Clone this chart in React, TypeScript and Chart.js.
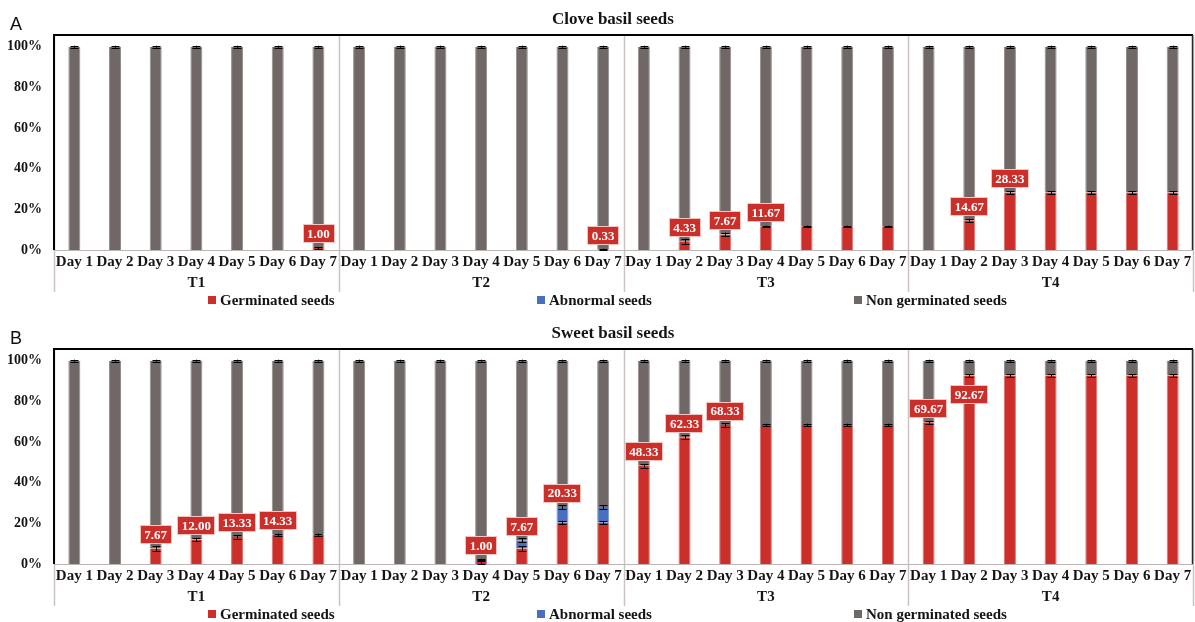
import React, { useEffect, useRef } from 'react';
import { Chart, registerables } from 'chart.js';

Chart.register(...registerables);

// ---------- data ----------
const days = ['Day 1', 'Day 2', 'Day 3', 'Day 4', 'Day 5', 'Day 6', 'Day 7'];
const groups = ['T1', 'T2', 'T3', 'T4'];
const yTicks = [0, 20, 40, 60, 80, 100];
const seriesNames = ['Germinated seeds', 'Abnormal seeds', 'Non germinated seeds'];

// Panel A – Clove basil seeds (T1..T4, Day 1..7)
const cloveGerminated = [
  0, 0, 0, 0, 0, 0, 1.0,
  0, 0, 0, 0, 0, 0, 0.33,
  0, 4.33, 7.67, 11.67, 11.67, 11.67, 11.67,
  0, 14.67, 28.33, 28.33, 28.33, 28.33, 28.33,
];
const cloveAbnormal = [
  0, 0, 0, 0, 0, 0, 0,
  0, 0, 0, 0, 0, 0, 0,
  0, 0, 0, 0, 0, 0, 0,
  0, 0, 0, 0, 0, 0, 0,
];
const cloveNonGerminated = [
  100, 100, 100, 100, 100, 100, 99.0,
  100, 100, 100, 100, 100, 100, 99.67,
  100, 95.67, 92.33, 88.33, 88.33, 88.33, 88.33,
  100, 85.33, 71.67, 71.67, 71.67, 71.67, 71.67,
];
const cloveErrGerminated = [
  0, 0, 0, 0, 0, 0, 0.58,
  0, 0, 0, 0, 0, 0, 0.33,
  0, 1.2, 0.88, 0.33, 0.33, 0.33, 0.33,
  0, 0.67, 0.67, 0.67, 0.67, 0.67, 0.67,
];
const cloveErrAbnormal = [
  0, 0, 0, 0, 0, 0, 0,
  0, 0, 0, 0, 0, 0, 0,
  0, 0, 0, 0, 0, 0, 0,
  0, 0, 0, 0, 0, 0, 0,
];
const cloveErrTop = [
  0.5, 0.5, 0.5, 0.5, 0.5, 0.5, 0.5,
  0.5, 0.5, 0.5, 0.5, 0.5, 0.5, 0.5,
  0.5, 0.5, 0.5, 0.5, 0.5, 0.5, 0.5,
  0.5, 0.5, 0.5, 0.5, 0.5, 0.5, 0.5,
];

// Panel B – Sweet basil seeds
const sweetGerminated = [
  0, 0, 7.67, 12.0, 13.33, 14.33, 14.33,
  0, 0, 0, 1.0, 7.67, 20.33, 20.33,
  48.33, 62.33, 68.33, 68.33, 68.33, 68.33, 68.33,
  69.67, 92.67, 92.67, 92.67, 92.67, 92.67, 92.67,
];
const sweetAbnormal = [
  0, 0, 0, 0, 0, 0, 0,
  0, 0, 0, 1.0, 4.0, 7.67, 7.67,
  0, 0, 0, 0, 0, 0, 0,
  0, 0, 0, 0, 0, 0, 0,
];
const sweetNonGerminated = [
  100, 100, 92.33, 88.0, 86.67, 85.67, 85.67,
  100, 100, 100, 98.0, 88.33, 72.0, 72.0,
  51.67, 37.67, 31.67, 31.67, 31.67, 31.67, 31.67,
  30.33, 7.33, 7.33, 7.33, 7.33, 7.33, 7.33,
];
const sweetErrGerminated = [
  0, 0, 1.2, 0.88, 0.88, 0.67, 0.67,
  0, 0, 0, 1.0, 1.2, 0.88, 0.88,
  0.88, 0.88, 0.88, 0.67, 0.67, 0.67, 0.67,
  0.67, 0.67, 0.67, 0.67, 0.67, 0.67, 0.67,
];
const sweetErrAbnormal = [
  0, 0, 0, 0, 0, 0, 0,
  0, 0, 0, 0.67, 1.0, 0.88, 0.88,
  0, 0, 0, 0, 0, 0, 0,
  0, 0, 0, 0, 0, 0, 0,
];
const sweetErrTop = [
  0.5, 0.5, 0.5, 0.5, 0.5, 0.5, 0.5,
  0.5, 0.5, 0.5, 0.5, 0.5, 0.5, 0.5,
  0.5, 0.5, 0.5, 0.5, 0.5, 0.5, 0.5,
  0.5, 0.5, 0.5, 0.5, 0.5, 0.5, 0.5,
];

// ---------- styles ----------
const SERIF = "'Liberation Serif', 'Times New Roman', serif";
const SANS = "'Liberation Sans', Arial, sans-serif";
const RED = '#cc2f2a';
const RED_EDGE = '#e2706c';
const BLUE = '#4a6fbe';
const BLUE_EDGE = '#7a94d0';
const GRAY = '#6f6866';
const GRAY_EDGE = '#948d8b';
const SEP = '#cbc3c2';
const TEXT = '#141414';
const W = 1195;
const H = 314;

const categories: string[] = groups.flatMap(() => days);

type PanelProps = {
  top: number;
  letter: string;
  title: string;
  germ: number[];
  abn: number[];
  non: number[];
  errG: number[];
  errA: number[];
  errT: number[];
};

function makeDecor(p: PanelProps) {
  return {
    id: 'panelDecor',
    beforeDatasetsDraw(chart: any) {
      const { ctx, chartArea: ca } = chart;
      const x2 = chart.scales.x2;
      ctx.save();
      ctx.strokeStyle = SEP;
      ctx.lineWidth = 1.5;
      for (let k = 0; k <= 4; k++) {
        const x = Math.round(ca.left + (k * (ca.right - ca.left)) / 4) + 0.5;
        ctx.beginPath();
        ctx.moveTo(x, ca.top);
        ctx.lineTo(x, x2.bottom);
        ctx.stroke();
      }
      ctx.strokeStyle = '#bdb5b4';
      ctx.lineWidth = 1;
      ctx.beginPath();
      ctx.moveTo(ca.left, Math.round(ca.bottom) + 0.5);
      ctx.lineTo(ca.right, Math.round(ca.bottom) + 0.5);
      ctx.stroke();
      ctx.restore();
    },
    afterDatasetsDraw(chart: any) {
      const { ctx, chartArea: ca } = chart;
      const xs = chart.scales.x;
      const ys = chart.scales.y;
      ctx.save();
      // error bars
      ctx.strokeStyle = '#000';
      ctx.lineWidth = 1;
      const drawErr = (x: number, v: number, e: number) => {
        const y1 = ys.getPixelForValue(v + e);
        const y2 = ys.getPixelForValue(v - e);
        const xx = Math.round(x) + 0.5;
        ctx.beginPath();
        ctx.moveTo(xx, y1);
        ctx.lineTo(xx, y2);
        ctx.moveTo(xx - 4, Math.round(y1) + 0.5);
        ctx.lineTo(xx + 4, Math.round(y1) + 0.5);
        ctx.moveTo(xx - 4, Math.round(y2) + 0.5);
        ctx.lineTo(xx + 4, Math.round(y2) + 0.5);
        ctx.stroke();
      };
      for (let i = 0; i < categories.length; i++) {
        const x = xs.getPixelForValue(i);
        if (p.germ[i] > 0) drawErr(x, p.germ[i], p.errG[i]);
        if (p.abn[i] > 0) drawErr(x, p.germ[i] + p.abn[i], p.errA[i]);
        drawErr(x, p.germ[i] + p.abn[i] + p.non[i], p.errT[i]);
      }
      // frame
      ctx.strokeStyle = '#000';
      ctx.lineWidth = 2;
      ctx.beginPath();
      ctx.moveTo(ca.left, ca.bottom);
      ctx.lineTo(ca.left, ca.top);
      ctx.lineTo(ca.right, ca.top);
      ctx.stroke();
      ctx.lineWidth = 1.5;
      ctx.strokeStyle = '#2a2a2a';
      ctx.beginPath();
      ctx.moveTo(ca.right - 0.5, ca.top);
      ctx.lineTo(ca.right - 0.5, ca.bottom);
      ctx.stroke();

      // data labels
      ctx.font = `bold 13px ${SERIF}`;
      ctx.textAlign = 'center';
      ctx.textBaseline = 'middle';
      for (let i = 0; i < categories.length; i++) {
        const g = p.germ[i];
        const d = i % days.length;
        if (!(g > 0) || (d > 0 && p.germ[i - 1] === g)) continue;
        const x = xs.getPixelForValue(i);
        let y = ys.getPixelForValue(g + p.abn[i]) - 14;
        if (g > 85) y = ys.getPixelForValue(g) + 19;
        const txt = g.toFixed(2);
        const tw = ctx.measureText(txt).width + 9;
        const th = 19;
        ctx.fillStyle = RED;
        ctx.fillRect(Math.round(x - tw / 2), Math.round(y - th / 2), Math.round(tw), th);
        ctx.strokeStyle = '#f2c4c2';
        ctx.lineWidth = 1;
        ctx.strokeRect(Math.round(x - tw / 2) + 0.5, Math.round(y - th / 2) + 0.5, Math.round(tw) - 1, th - 1);
        ctx.fillStyle = '#fff';
        ctx.fillText(txt, x, y + 1);
      }
      ctx.restore();
    },
    afterDraw(chart: any) {
      const { ctx } = chart;
      ctx.save();
      // panel letter
      ctx.fillStyle = '#111';
      ctx.font = `18px ${SANS}`;
      ctx.textAlign = 'left';
      ctx.textBaseline = 'alphabetic';
      ctx.fillText(p.letter, 10, 30);
      // title
      ctx.font = `bold 17px ${SERIF}`;
      ctx.textAlign = 'center';
      ctx.textBaseline = 'middle';
      ctx.fillStyle = TEXT;
      ctx.fillText(p.title, 613, 20);
      // legend
      const colors = [RED, BLUE, GRAY];
      const lx = [208, 537, 854];
      const ly = 300;
      ctx.font = `bold 15px ${SERIF}`;
      ctx.textAlign = 'left';
      for (let k = 0; k < seriesNames.length; k++) {
        ctx.fillStyle = colors[k];
        ctx.fillRect(lx[k], ly - 4, 8, 8);
        ctx.fillStyle = TEXT;
        ctx.fillText(seriesNames[k], lx[k] + 12, ly + 1);
      }
      ctx.restore();
    },
  };
}

function Panel(p: PanelProps) {
  const ref = useRef<HTMLCanvasElement>(null);
  useEffect(() => {
    const tickFont = { family: SERIF, size: 15, weight: 'bold' as const };
    const edge = { left: 1, right: 1, top: 0, bottom: 0 };
    const chart = new Chart(ref.current as HTMLCanvasElement, {
      type: 'bar',
      data: {
        labels: categories,
        datasets: [
          { label: seriesNames[0], data: p.germ, backgroundColor: RED, borderColor: RED_EDGE, borderWidth: edge },
          { label: seriesNames[1], data: p.abn, backgroundColor: BLUE, borderColor: BLUE_EDGE, borderWidth: edge },
          { label: seriesNames[2], data: p.non, backgroundColor: GRAY, borderColor: GRAY_EDGE, borderWidth: edge },
        ],
      },
      options: {
        responsive: false,
        animation: false,
        events: [],
        layout: { padding: { left: 7, right: 2, top: 35, bottom: 22 } },
        datasets: { bar: { barPercentage: 0.295, categoryPercentage: 1 } },
        plugins: {
          legend: { display: false },
          title: { display: false },
          tooltip: { enabled: false },
        },
        scales: {
          x: {
            stacked: true,
            weight: 0,
            grid: { display: false, drawTicks: false },
            border: { display: false },
            ticks: { autoSkip: false, maxRotation: 0, minRotation: 0, padding: 3, color: TEXT, font: tickFont },
            afterFit: (s: any) => { s.height = 24; },
          },
          y: {
            stacked: true,
            min: 0,
            max: 105.75,
            grid: { display: false, drawTicks: false },
            border: { display: false },
            afterBuildTicks: (s: any) => { s.ticks = yTicks.map((v) => ({ value: v })); },
            ticks: {
              padding: 12,
              color: TEXT,
              font: { family: SERIF, size: 14, weight: 'bold' as const },
              callback: (v: any) => `${v}%`,
            },
            afterFit: (s: any) => { s.width = 47; },
          },
          x2: {
            type: 'category',
            labels: groups,
            position: 'bottom',
            offset: true,
            weight: 1,
            grid: { display: false, drawTicks: false },
            border: { display: false },
            ticks: { autoSkip: false, maxRotation: 0, padding: 0, color: TEXT, font: tickFont },
            afterFit: (s: any) => { s.height = 18; },
          },
        },
      } as any,
      plugins: [makeDecor(p)],
    });
    return () => chart.destroy();
  }, []);
  return (
    <canvas
      ref={ref}
      width={W}
      height={H}
      style={{ position: 'absolute', left: 0, top: p.top, width: W, height: H, display: 'block' }}
    />
  );
}

export default function App() {
  return (
    <div style={{ position: 'fixed', left: 0, top: 0, width: W, height: 622, overflow: 'hidden', background: '#fff' }}>
      <Panel
        top={0}
        letter="A"
        title="Clove basil seeds"
        germ={cloveGerminated}
        abn={cloveAbnormal}
        non={cloveNonGerminated}
        errG={cloveErrGerminated}
        errA={cloveErrAbnormal}
        errT={cloveErrTop}
      />
      <Panel
        top={314}
        letter="B"
        title="Sweet basil seeds"
        germ={sweetGerminated}
        abn={sweetAbnormal}
        non={sweetNonGerminated}
        errG={sweetErrGerminated}
        errA={sweetErrAbnormal}
        errT={sweetErrTop}
      />
    </div>
  );
}
